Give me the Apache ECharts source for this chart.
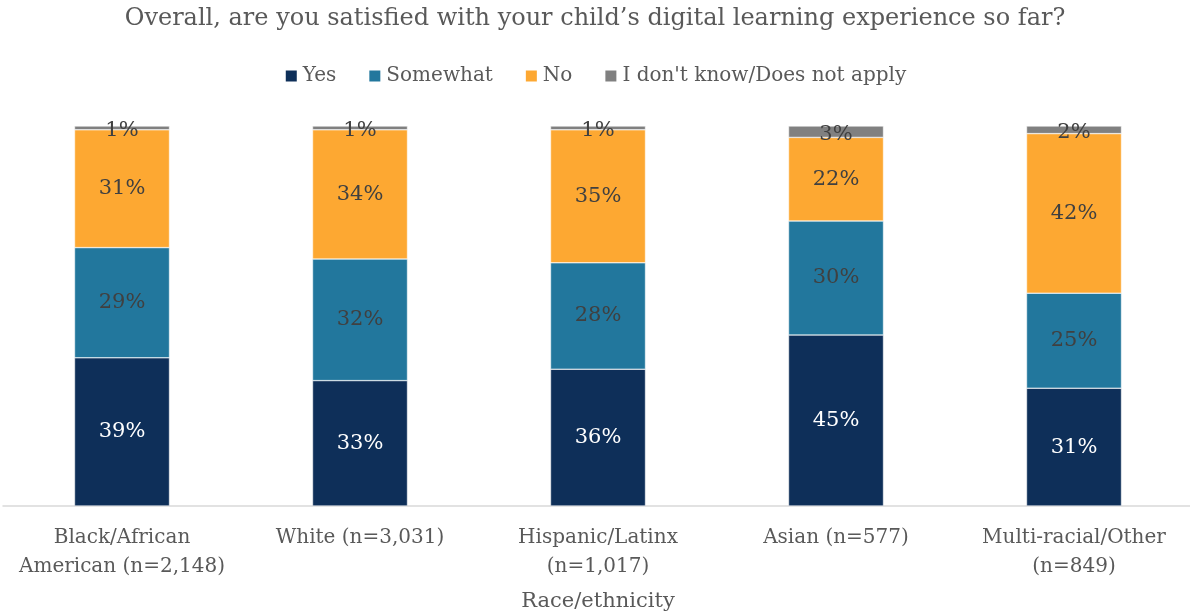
<!DOCTYPE html>
<html>
<head>
<meta charset="utf-8">
<script src="https://cdn.jsdelivr.net/npm/echarts@6/dist/echarts.min.js"></script>
<style>
  html, body { margin: 0; padding: 0; background: #fff; }
  #chart { width: 1190px; height: 614px; }
</style>
</head>
<body>
<div id="chart"></div>
<script>
// Categories (race/ethnicity groups) and share of responses per answer
const categories = [
  'Black/African\nAmerican (n=2,148)',
  'White (n=3,031)',
  'Hispanic/Latinx\n(n=1,017)',
  'Asian (n=577)',
  'Multi-racial/Other\n(n=849)'
];
const yesValues = [39, 33, 36, 45, 31];
const somewhatValues = [29, 32, 28, 30, 25];
const noValues = [31, 34, 35, 22, 42];
const dontKnowValues = [1, 1, 1, 3, 2];

const seriesNames = ['Yes', 'Somewhat', 'No', "I don't know/Does not apply"];
const seriesColors = ['#0E2F59', '#22779D', '#FDA832', '#808080'];
const labelColors = ['#ffffff', '#404040', '#404040', '#404040'];

const FONT = 'DejaVu Serif';

const chart = echarts.init(document.getElementById('chart'), null, { renderer: 'canvas' });

const dataSets = [yesValues, somewhatValues, noValues, dontKnowValues];

chart.setOption({
  backgroundColor: '#ffffff',
  animation: false,
  textStyle: { fontFamily: FONT },
  title: {
    text: 'Overall, are you satisfied with your child\u2019s digital learning experience so far?',
    left: 'center',
    top: 2,
    textStyle: { fontFamily: FONT, fontSize: 24, fontWeight: 'normal', color: '#595959' }
  },
  legend: {
    top: 61,
    left: 'center',
    itemWidth: 13,
    itemHeight: 13,
    itemGap: 31,
    icon: 'rect',
    textStyle: { fontFamily: FONT, fontSize: 20, color: '#595959' },
    data: seriesNames
  },
  grid: { left: 3, width: 1190, top: 126, bottom: 108, containLabel: false, outerBoundsMode: 'none' },
  xAxis: {
    type: 'category',
    data: categories,
    axisLine: { lineStyle: { color: '#d9d9d9', width: 1.5 } },
    axisTick: { show: false },
    axisLabel: {
      interval: 0,
      margin: 17,
      fontFamily: FONT,
      fontSize: 20,
      lineHeight: 29,
      color: '#595959'
    },
    name: 'Race/ethnicity',
    nameLocation: 'middle',
    nameGap: 85,
    nameTextStyle: { fontFamily: FONT, fontSize: 21, color: '#595959' }
  },
  yAxis: {
    type: 'value',
    min: 0,
    max: 100,
    show: false,
    splitLine: { show: false }
  },
  series: dataSets.map((values, i) => ({
    name: seriesNames[i],
    type: 'bar',
    stack: 'total',
    barWidth: 95,
    data: values,
    itemStyle: { color: seriesColors[i], borderColor: '#ffffff', borderWidth: 0.5 },
    label: {
      show: true,
      position: 'inside',
      offset: i === 3 ? [0, 3] : [0, 0],
      formatter: '{c}%',
      fontFamily: FONT,
      fontSize: 21,
      color: labelColors[i]
    }
  }))
});
</script>
</body>
</html>
